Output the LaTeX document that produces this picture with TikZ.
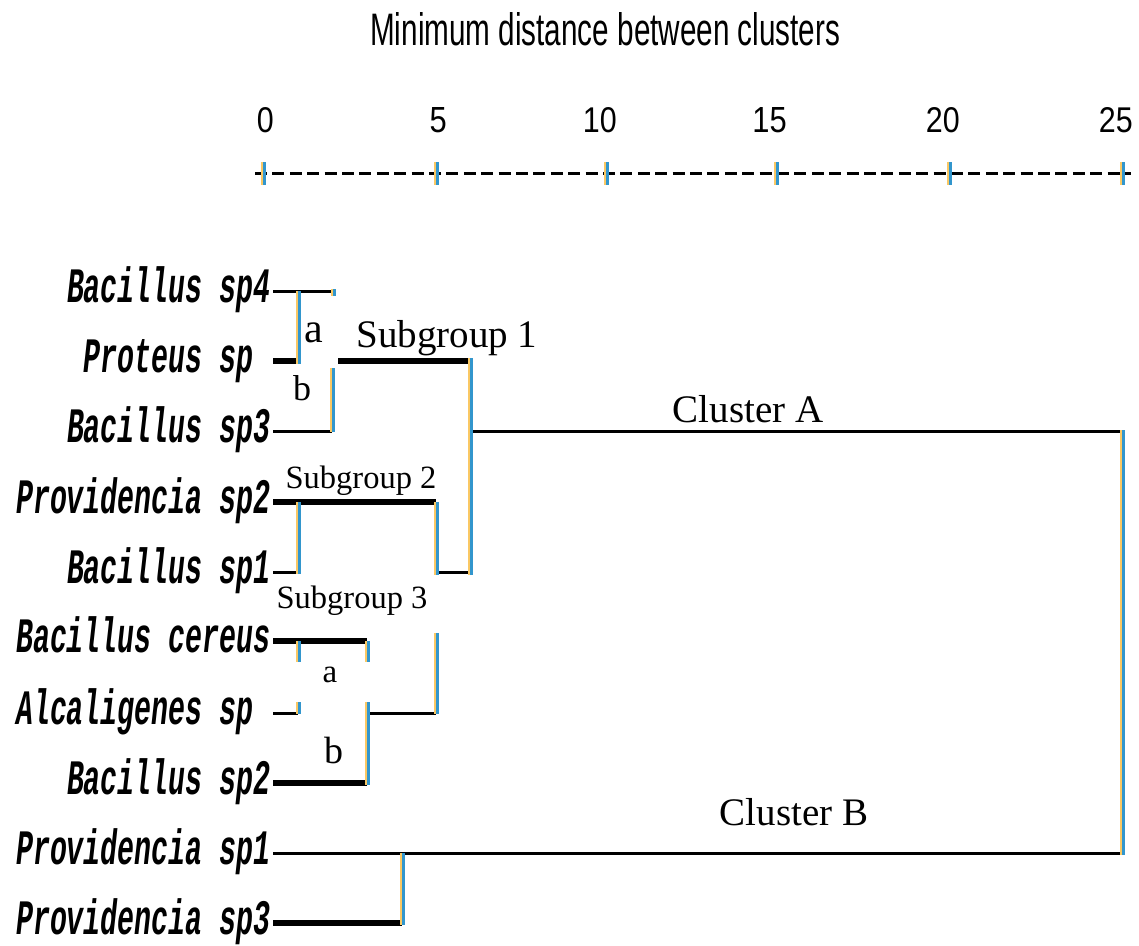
\documentclass[tikz,border=0pt]{standalone}
\usepackage{fontspec}
\setmainfont{Liberation Serif}
\setsansfont{Liberation Sans}
\setmonofont{Liberation Mono}
\usetikzlibrary{calc}
\definecolor{vor}{RGB}{250,200,100}
\definecolor{vbl}{RGB}{50,150,205}
\newcommand\vseg[3]{\fill[vor] (#1-2.5,#2) rectangle (#1,#3); \fill[vbl] (#1,#2) rectangle (#1+2.5,#3);}
\newcommand\leaftext[1]{\scalebox{1}[1.75]{\fontsize{28.3pt}{30pt}\ttfamily\bfseries\itshape #1}}
\newcommand\ticktext[1]{\scalebox{0.85}[1]{\resizebox{!}{25pt}{\sffamily #1}}}
\begin{document}
\begin{tikzpicture}[x=1pt,y=-1pt,
  thinl/.style={line width=3pt},
  thickl/.style={line width=6pt},
  leaf/.style={inner sep=0pt, anchor=base east},
  lab/.style={inner sep=0pt, anchor=base},
]
\useasboundingbox[fill=white] (0,0) rectangle (1139,945);
% ---- axis ----
\node[inner sep=0pt, anchor=base west] (title) at (370,45)
  {\resizebox{470pt}{33pt}{\sffamily Minimum distance between clusters}};
\coordinate (axl) at (255,173);
\coordinate (axr) at (1131,173);
\draw[line width=3pt, dash pattern=on 12pt off 5.4pt] (axl) -- (axr);
\foreach \X/\L in {263/0,436/5,606/10,776/15,949/20,1122/25}{
  \vseg{\X}{162}{185}
  \node[inner sep=0pt, anchor=base east] (t\L) at (\X+11,132) {\ticktext{\L}};
}
% ---- leaves ----
\node[leaf] (n1) at (271,302) {\leaftext{Bacillus sp4}};
\node[leaf] (n2) at (271,372) {\leaftext{Proteus sp~}};
\node[leaf] (n3) at (271,442) {\leaftext{Bacillus sp3}};
\node[leaf] (n4) at (271,513) {\leaftext{Providencia sp2}};
\node[leaf] (n5) at (271,583) {\leaftext{Bacillus sp1}};
\node[leaf] (n6) at (271,652) {\leaftext{Bacillus cereus}};
\node[leaf] (n7) at (271,724) {\leaftext{Alcaligenes sp~}};
\node[leaf] (n8) at (271,794) {\leaftext{Bacillus sp2}};
\node[leaf] (n9) at (271,864) {\leaftext{Providencia sp1}};
\node[leaf] (n10) at (271,934) {\leaftext{Providencia sp3}};
% leaf line starts
\coordinate (l1) at (273,291);
\coordinate (l2) at (273,361);
\coordinate (l3) at (273,431);
\coordinate (l4) at (273,502);
\coordinate (l5) at (273,572);
\coordinate (l6) at (273,641);
\coordinate (l7) at (273,713);
\coordinate (l8) at (273,783);
\coordinate (l9) at (273,853);
\coordinate (l10) at (273,923);
% junction coordinates
\coordinate (j1) at (333,291);
\coordinate (j2) at (298,361);
\coordinate (j3) at (332,431);
\coordinate (s1a) at (338,361);
\coordinate (s1b) at (470,361);
\coordinate (ca1) at (470,431);
\coordinate (ca2) at (1122,431);
\coordinate (j4) at (436,502);
\coordinate (j5) at (298,572);
\coordinate (j5b) at (436,572);
\coordinate (j5c) at (470,572);
\coordinate (j6) at (367,641);
\coordinate (j7) at (298,713);
\coordinate (j7b) at (367,713);
\coordinate (j7c) at (436,713);
\coordinate (j8) at (367,783);
\coordinate (cb) at (1122,853);
\coordinate (j10) at (402,923);
% horizontals
\draw[thinl] (l1) -- (j1);
\draw[thickl] (l2) -- (j2);
\draw[thinl] (l3) -- (j3);
\draw[thickl] (s1a) -- (s1b);
\draw[thinl] (ca1) -- (ca2);
\draw[thickl] (l4) -- (j4);
\draw[thinl] (l5) -- (j5);
\draw[thinl] (j5b) -- (j5c);
\draw[thickl] (l6) -- (j6);
\draw[thinl] (l7) -- (j7);
\draw[thinl] (j7b) -- (j7c);
\draw[thickl] (l8) -- (j8);
\draw[thinl] (l9) -- (cb);
\draw[thickl] (l10) -- (j10);
% verticals
\vseg{333}{289}{296}
\vseg{298}{291}{364}
\vseg{332}{368}{432}
\vseg{470}{358}{575}
\vseg{1122}{430}{855}
\vseg{298}{502}{574}
\vseg{436}{502}{575}
\vseg{436}{633}{714}
\vseg{298}{641}{662}
\vseg{298}{702}{714}
\vseg{367}{641}{662}
\vseg{367}{702}{785}
\vseg{402}{853}{925}
% ---- labels ----
\node[lab, font=\fontsize{42pt}{44pt}\selectfont] (la1) at (314,342) {a};
\node[lab, font=\fontsize{36pt}{38pt}\selectfont] (lb1) at (302,400) {b};
\node[lab, font=\fontsize{33pt}{35pt}\selectfont] (la2) at (330,682) {a};
\node[lab, font=\fontsize{38pt}{40pt}\selectfont] (lb2) at (334,763) {b};
\node[lab, font=\fontsize{39pt}{41pt}\selectfont] (sg1) at (447,347) {Subgroup 1};
\node[lab, font=\fontsize{32.5pt}{34pt}\selectfont] (sg2) at (361,488) {Subgroup 2};
\node[lab, font=\fontsize{32.5pt}{34pt}\selectfont] (sg3) at (352,608) {Subgroup 3};
\node[lab, font=\fontsize{39pt}{41pt}\selectfont] (cA) at (748,422) {Cluster A};
\node[lab, font=\fontsize{39pt}{41pt}\selectfont] (cB) at (794,825) {Cluster B};
\end{tikzpicture}
\end{document}
